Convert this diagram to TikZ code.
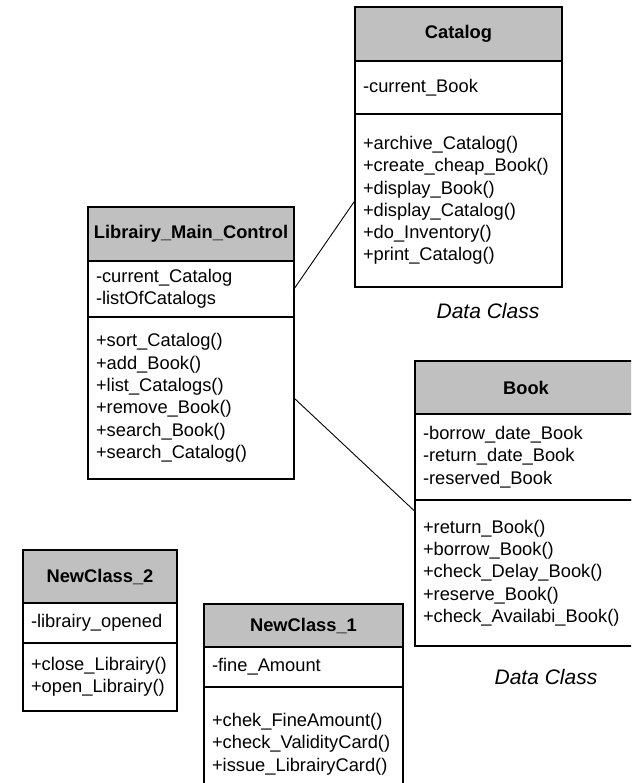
\documentclass[tikz,border=0pt]{standalone}
\usepackage{fontspec}
\setmainfont{Liberation Sans}
\usetikzlibrary{positioning}
\definecolor{headgray}{RGB}{192,192,192}

\begin{document}
\begin{tikzpicture}[x=1pt, y=-1pt,
  head/.style={draw, fill=headgray, line width=1.4pt, outer sep=0pt, inner xsep=2pt, anchor=north west, font=\fontsize{18.3}{22.3}\selectfont\bfseries},
  comp/.style={draw, fill=white, line width=1.4pt, outer sep=0pt, inner xsep=8pt, inner ysep=0pt, align=left, font=\fontsize{18.3}{22.3}\selectfont},
  note/.style={font=\fontsize{21}{25}\selectfont\itshape},
  link/.style={line width=0.9pt}]
\clip (0,0) rectangle (631,783);

% Catalog
\node[head, minimum width=207pt, minimum height=54pt] (cat-head) at (355,7) {Catalog};
\node[comp, below=0pt of cat-head, text width=191pt, minimum height=53pt] (cat-attr) {-current\_Book};
\node[comp, below=0pt of cat-attr, text width=191pt, minimum height=173pt] (cat-ops) {+archive\_Catalog()\\+create\_cheap\_Book()\\+display\_Book()\\+display\_Catalog()\\+do\_Inventory()\\+print\_Catalog()};
\node[note] (cat-note) at (488,311) {Data Class};

% Librairy_Main_Control
\node[head, minimum width=206pt, minimum height=54pt] (ctrl-head) at (88,207) {Librairy\_Main\_Control};
\node[comp, below=0pt of ctrl-head, text width=190pt, minimum height=56pt] (ctrl-attr) {-current\_Catalog\\-listOfCatalogs};
\node[comp, below=0pt of ctrl-attr, text width=190pt, minimum height=162pt] (ctrl-ops) {+sort\_Catalog()\\+add\_Book()\\+list\_Catalogs()\\+remove\_Book()\\+search\_Book()\\+search\_Catalog()};

% Book
\node[head, minimum width=222pt, minimum height=53pt] (book-head) at (415,361) {Book};
\node[comp, below=0pt of book-head, text width=206pt, minimum height=86pt] (book-attr) {-borrow\_date\_Book\\-return\_date\_Book\\-reserved\_Book};
\node[comp, below=0pt of book-attr, text width=206pt, minimum height=146pt] (book-ops) {+return\_Book()\\+borrow\_Book()\\+check\_Delay\_Book()\\+reserve\_Book()\\+check\_Availabi\_Book()};
\node[note] (book-note) at (546,677) {Data Class};

% NewClass_2
\node[head, minimum width=154pt, minimum height=53pt] (nc2-head) at (23,550) {NewClass\_2};
\node[comp, below=0pt of nc2-head, text width=138pt, minimum height=40pt] (nc2-attr) {-librairy\_opened};
\node[comp, below=0pt of nc2-attr, text width=138pt, minimum height=68pt] (nc2-ops) {+close\_Librairy()\\+open\_Librairy()};

% NewClass_1
\node[head, minimum width=199pt, minimum height=43pt] (nc1-head) at (204,604) {NewClass\_1};
\node[comp, below=0pt of nc1-head, text width=183pt, minimum height=40pt] (nc1-attr) {-fine\_Amount};
\node[comp, below=0pt of nc1-attr, text width=183pt, minimum height=114pt] (nc1-ops) {+chek\_FineAmount()\\+check\_ValidityCard()\\+issue\_LibrairyCard()};

% associations
\draw[link] (ctrl-attr.east) -- (cat-ops.west);
\draw[link] (ctrl-ops.east) -- (book-ops.151);
\end{tikzpicture}
\end{document}
